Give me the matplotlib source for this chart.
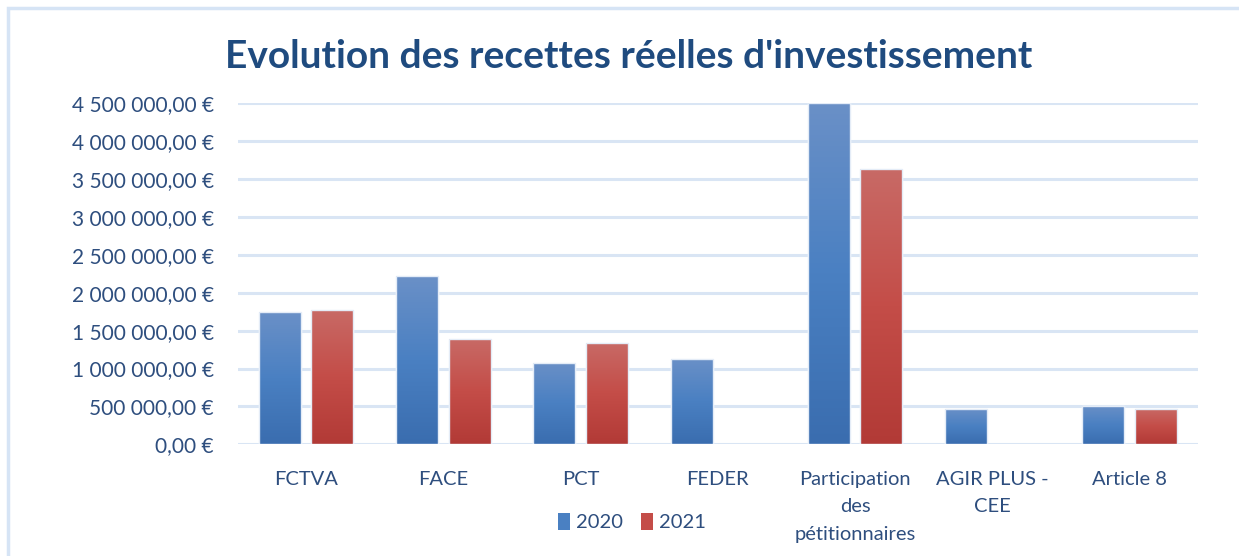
import matplotlib
matplotlib.use('Agg')
import matplotlib.pyplot as plt
import numpy as np
from matplotlib.patches import Rectangle
from matplotlib.colors import LinearSegmentedColormap
from matplotlib.ticker import FuncFormatter, MultipleLocator

categories = ['FCTVA', 'FACE', 'PCT', 'FEDER', 'Participation\ndes\npétitionnaires',
              'AGIR PLUS -\nCEE', 'Article 8']
vals_2020 = [1741000, 2216000, 1069000, 1129000, 4500000, 470000, 505000]
vals_2021 = [1776000, 1389000, 1336000, 0, 3636000, 0, 470000]
series_names = ['2020', '2021']

plt.rcParams['font.family'] = ['Lato', 'DejaVu Sans']
txt_col = '#2E4E7E'
grid_col = '#D9E5F4'

blue_cmap = LinearSegmentedColormap.from_list('b', ['#3A6DAF', '#4A80C2', '#6A90C7'])
red_cmap = LinearSegmentedColormap.from_list('r', ['#B23A36', '#C44D48', '#C86A66'])

fig = plt.figure(figsize=(12.39, 5.56), dpi=100)
ax = fig.add_axes([0.1917, 0.2009, 0.7753, 0.6133])

x = np.arange(len(categories))
w = 0.306
gap = 0.076
grad = np.linspace(0, 1, 256).reshape(-1, 1)

for vals, off, cmap, base in [(vals_2020, -(w + gap) / 2, blue_cmap, '#4A80C2'),
                              (vals_2021, (w + gap) / 2, red_cmap, '#C44D48')]:
    bars = ax.bar(x + off, vals, w, color=base, edgecolor='#FFFFFF', linewidth=1.0,
                  zorder=3)
    for b in bars:
        h = b.get_height()
        if h <= 0:
            b.set_visible(False)
            continue
        x0 = b.get_x()
        im = ax.imshow(grad, extent=(x0, x0 + w, 0, h), origin='lower', cmap=cmap,
                       aspect='auto', zorder=3.5)
        im.set_clip_path(b)
        ax.add_patch(Rectangle((x0, 0), w, h, fill=False, edgecolor='#E4ECF7',
                               linewidth=1.0, zorder=4))

ax.set_xlim(-0.5, len(categories) - 0.5)
ax.set_ylim(0, 4500000)
ax.yaxis.set_major_locator(MultipleLocator(500000))


def euro(v, pos):
    s = f'{v:,.2f}'.replace(',', ' ').replace('.', ',')
    return s + ' €'


ax.yaxis.set_major_formatter(FuncFormatter(euro))
ax.grid(axis='y', color=grid_col, linewidth=2.2, zorder=0)
ax.set_axisbelow(True)
for s in ax.spines.values():
    s.set_visible(False)
ax.tick_params(axis='y', length=0, pad=17, labelsize=15, labelcolor=txt_col)
ax.tick_params(axis='x', length=0, pad=19, labelsize=14.5, labelcolor=txt_col)
ax.set_xticks(x)
ax.set_xticklabels(categories, linespacing=1.75, va='top')

fig.text(629 / 1239, 1 - 57 / 556, "Evolution des recettes réelles d'investissement",
         ha='center', va='center', fontsize=28, fontweight='bold', color='#1F4B7F')

handles = [Rectangle((0, 0), 1, 1, facecolor=c) for c in ['#4A80C2', '#C44D48']]
fig.legend(handles, series_names, loc='center', bbox_to_anchor=(632 / 1239, 1 - 522 / 556),
           ncol=2, frameon=False, fontsize=14.5, labelcolor=txt_col, handlelength=0.6,
           handleheight=0.9, handletextpad=0.3, columnspacing=0.9)

fig.add_artist(Rectangle((8 / 1239, -0.1), 1.2, 1 - 8 / 556 + 0.1, transform=fig.transFigure,
                         fill=False, edgecolor='#D6E4F5', linewidth=2.5))

fig.savefig('out.png', dpi=100)
